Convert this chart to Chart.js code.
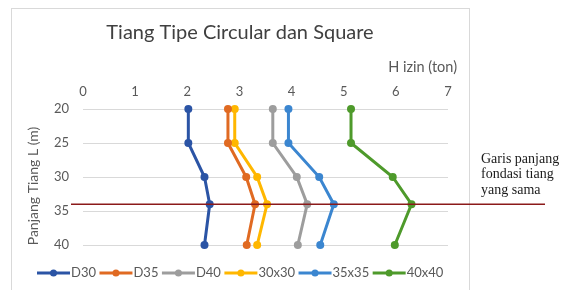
<!DOCTYPE html>
<html>
<head>
<meta charset="utf-8">
<script src="https://cdn.jsdelivr.net/npm/chart.js@4/dist/chart.umd.min.js"></script>
<style>
  html, body { margin: 0; padding: 0; background: #fff; }
  #wrap { width: 561px; height: 290px; }
</style>
</head>
<body>
<div id="wrap"><canvas id="chart" width="561" height="290"></canvas></div>
<script>
// data
const panjang = [20, 25, 30, 34, 40];          // Panjang Tiang L (m)
const hD30   = [2.02, 2.02, 2.33, 2.43, 2.33];
const hD35   = [2.78, 2.78, 3.13, 3.30, 3.14];
const hD40   = [3.64, 3.64, 4.10, 4.30, 4.12];
const h30x30 = [2.91, 2.91, 3.34, 3.53, 3.34];
const h35x35 = [3.94, 3.94, 4.53, 4.81, 4.55];
const h40x40 = [5.14, 5.14, 5.94, 6.30, 5.98];
const seriesNames = ['D30', 'D35', 'D40', '30x30', '35x35', '40x40'];
const seriesColors = ['#2b54a5', '#e06a22', '#9d9d9d', '#ffb700', '#3b86d0', '#4e9a2b'];
const garisL = 34;   // red reference line
const titleText = 'Tiang Tipe Circular dan Square';
const xTitle = 'H izin (ton)';
const yTitle = 'Panjang Tiang L (m)';
const noteLines = ['Garis panjang', 'fondasi tiang', 'yang sama'];

const FONT = 'Lato, "Open Sans", sans-serif';

function pts(vals) {
  return vals.map((v, i) => ({ x: v, y: panjang[i] }));
}

const allVals = [hD30, hD35, hD40, h30x30, h35x35, h40x40];
const datasets = allVals.map((vals, i) => ({
  label: seriesNames[i],
  data: pts(vals),
  showLine: true,
  clip: false,
  borderColor: seriesColors[i],
  backgroundColor: seriesColors[i],
  borderWidth: 3,
  pointRadius: 4,
  pointBorderWidth: 0,
  tension: 0
}));

// frame, titles, legend, reference line and note
const decor = {
  id: 'decor',
  beforeDraw(chart) {
    const ctx = chart.ctx;
    ctx.save();
    ctx.strokeStyle = '#d9d9d9';
    ctx.lineWidth = 1;
    ctx.strokeRect(11.5, 8.5, 458, 300);

    ctx.fillStyle = '#404040';
    ctx.font = '20px ' + FONT;
    ctx.textAlign = 'center';
    ctx.textBaseline = 'alphabetic';
    ctx.fillText(titleText, 240, 39);

    ctx.fillStyle = '#595959';
    ctx.font = '14.5px ' + FONT;
    ctx.textAlign = 'right';
    ctx.fillText(xTitle, 457, 72);

    ctx.font = '14px ' + FONT;
    ctx.translate(33, 186);
    ctx.rotate(-Math.PI / 2);
    ctx.textAlign = 'center';
    ctx.textBaseline = 'middle';
    ctx.fillText(yTitle, 0, 0);
    ctx.restore();
  },
  afterDatasetsDraw(chart) {
    const ctx = chart.ctx;
    const y = chart.scales.y.getPixelForValue(garisL);
    ctx.save();
    ctx.strokeStyle = '#8b1a1a';
    ctx.lineWidth = 1.5;
    ctx.beginPath();
    ctx.moveTo(71, y);
    ctx.lineTo(545, y);
    ctx.stroke();

    ctx.fillStyle = '#1a1a1a';
    ctx.font = '14px "Liberation Serif", "DejaVu Serif", serif';
    ctx.textAlign = 'left';
    ctx.textBaseline = 'middle';
    noteLines.forEach((t, i) => ctx.fillText(t, 481, 159 + i * 15.5));

    // legend
    ctx.font = '13px ' + FONT;
    ctx.textBaseline = 'middle';
    let x = 37;
    const ly = 273;
    chart.data.datasets.forEach(ds => {
      ctx.strokeStyle = ds.borderColor;
      ctx.fillStyle = ds.borderColor;
      ctx.lineWidth = 3;
      ctx.beginPath();
      ctx.moveTo(x, ly);
      ctx.lineTo(x + 33, ly);
      ctx.stroke();
      ctx.beginPath();
      ctx.arc(x + 16.5, ly, 3.5, 0, Math.PI * 2);
      ctx.fill();
      x += 34;
      ctx.fillStyle = '#595959';
      ctx.fillText(ds.label, x, ly);
      x += ctx.measureText(ds.label).width + 3.5;
    });
    ctx.restore();
  }
};

new Chart(document.getElementById('chart'), {
  type: 'scatter',
  data: { datasets },
  options: {
    responsive: false,
    animation: false,
    events: [],
    layout: { padding: { left: 0, top: 0, right: 113, bottom: 45 } },
    plugins: { legend: { display: false }, title: { display: false }, tooltip: { enabled: false } },
    scales: {
      x: {
        type: 'linear',
        position: 'top',
        min: 0, max: 7,
        grid: { display: false },
        border: { display: false },
        ticks: { stepSize: 1, color: '#595959', font: { family: FONT, size: 13 }, padding: 1 },
        afterFit(s) { s.height = 109; }
      },
      y: {
        type: 'linear',
        reverse: true,
        min: 20, max: 40,
        grid: { color: '#d9d9d9', drawTicks: false, lineWidth: 1 },
        border: { display: false },
        ticks: { stepSize: 5, color: '#595959', font: { family: FONT, size: 13 }, padding: 14 },
        afterFit(s) { s.width = 83; }
      }
    }
  },
  plugins: [decor]
});
</script>
</body>
</html>
